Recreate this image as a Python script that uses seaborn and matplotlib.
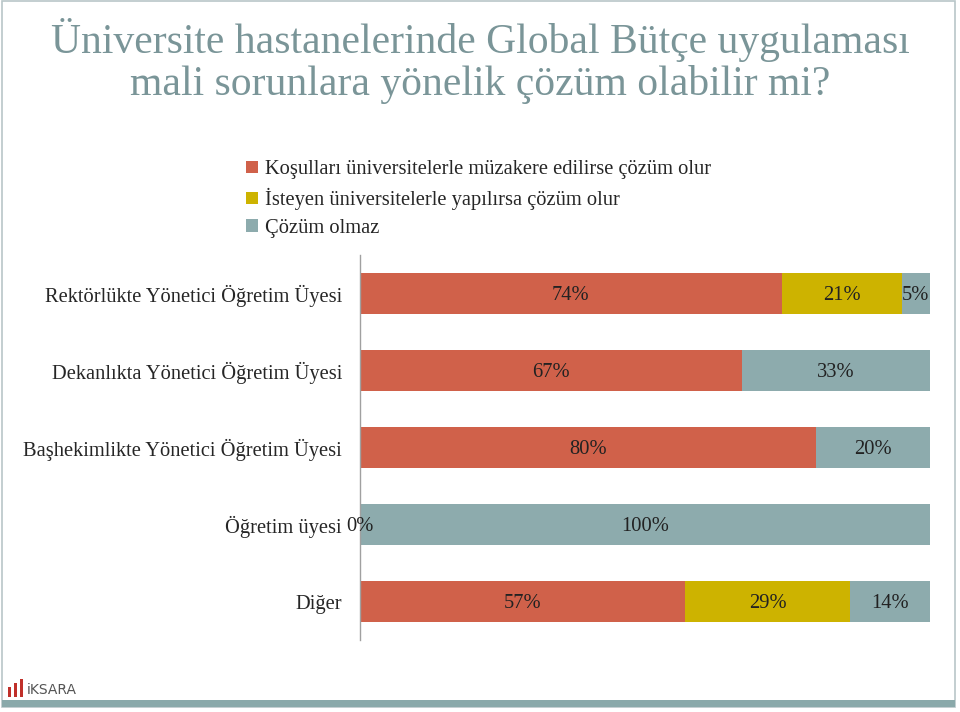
import matplotlib
matplotlib.use("Agg")
import matplotlib.pyplot as plt
import matplotlib.patches as mpatches
import seaborn as sns
import pandas as pd

sns.set_style("white")
plt.rcParams['font.family'] = ['Liberation Serif', 'DejaVu Serif']

# ---- veri ----
title = "Üniversite hastanelerinde Global Bütçe uygulaması\nmali sorunlara yönelik çözüm olabilir mi?"
groups = ["Rektörlükte Yönetici Öğretim Üyesi",
          "Dekanlıkta Yönetici Öğretim Üyesi",
          "Başhekimlikte Yönetici Öğretim Üyesi",
          "Öğretim üyesi",
          "Diğer"]
series = ["Koşulları üniversitelerle müzakere edilirse çözüm olur",
          "İsteyen üniversitelerle yapılırsa çözüm olur",
          "Çözüm olmaz"]
kosullu = [74, 67, 80, 0, 57]
isteyen = [21, 0, 0, 0, 29]
olmaz = [5, 33, 20, 100, 14]
colors = ["#D0614A", "#CDB300", "#8DABAD"]

df = pd.DataFrame({"grup": groups, series[0]: kosullu, series[1]: isteyen, series[2]: olmaz})
df["c1"] = df[series[0]]
df["c2"] = df["c1"] + df[series[1]]
df["c3"] = df["c2"] + df[series[2]]

fig = plt.figure(figsize=(9.6, 7.12), dpi=100)
W, H = 960, 712

# slayt çerçevesi ve alt şerit
fig.patches.append(mpatches.Rectangle((2 / W, 1 - 707 / H), 953 / W, 706 / H, transform=fig.transFigure,
                                      fill=False, edgecolor="#B9C6C8", linewidth=1.2))
fig.patches.append(mpatches.Rectangle((2 / W, 1 - 707 / H), 953 / W, 7 / H, transform=fig.transFigure,
                                      facecolor="#8AA9AA", edgecolor="none"))

fig.text(0.5, 1 - 61 / H, title, ha="center", va="center", fontsize=30, color="#7A9598",
         linespacing=1.12)

ax = fig.add_axes([360 / W, 1 - 640 / H, 570 / W, 385 / H])

# yığılmış çubuklar: önce toplam, sonra ara toplamlar
for col, c in zip(["c3", "c2", "c1"], colors[::-1]):
    sns.barplot(data=df, x=col, y="grup", color=c, width=0.52, saturation=1,
                edgecolor="none", ax=ax, orient="h")

ax.set_xlim(0, 100)
ax.set_ylim(4.5, -0.5)
ax.set_xlabel("")
ax.set_ylabel("")
ax.set_xticks([])
ax.tick_params(axis="y", length=0, pad=13, labelsize=14.8)
for s in ["top", "right", "bottom"]:
    ax.spines[s].set_visible(False)
ax.spines["left"].set_color("#A0A0A0")
ax.spines["left"].set_linewidth(1)

# değer etiketleri
for i in range(len(groups)):
    left = 0
    for j, vals in enumerate([kosullu, isteyen, olmaz]):
        v = vals[i]
        if v > 0 or j == 0:
            ax.text(left + v / 2, i + 0.03, f"{v}%", ha="center", va="center", fontsize=14.8, color="#222222")
        left += v

handles = [mpatches.Patch(facecolor=c, edgecolor="none") for c in colors]
fig.legend(handles, series, loc="upper left", bbox_to_anchor=(238 / W, 1 - 152 / H), frameon=False,
           fontsize=14.8, handlelength=0.55, handleheight=0.55, handletextpad=0.35, labelspacing=0.42,
           borderaxespad=0)

# logo
for k, (x, h) in enumerate([(8, 10), (14, 14), (20, 18)]):
    fig.patches.append(mpatches.Rectangle((x / W, 1 - 697 / H), 3 / W, h / H, transform=fig.transFigure,
                                          facecolor="#C0302A", edgecolor="none"))
fig.text(27 / W, 1 - 690 / H, "iKSARA", fontsize=10, color="#555555", va="center",
         family=["DejaVu Sans"])

fig.savefig("out.png", dpi=100)
